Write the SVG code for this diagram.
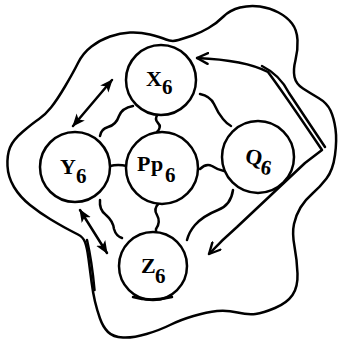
<svg xmlns="http://www.w3.org/2000/svg" width="339" height="347" viewBox="0 0 339 347">
<style>
.ln{fill:none;stroke:#000;stroke-width:2.5;stroke-linecap:round;stroke-linejoin:round}
.nd{fill:#fff;stroke:#000;stroke-width:2.5}
.lb{font-family:"Liberation Serif","Times New Roman",serif;font-weight:bold;font-size:22px;fill:#000}
.sb{font-size:21px}
</style>
<defs>
<marker id="v" viewBox="0 0 12 12" refX="11" refY="6" markerWidth="13" markerHeight="13" markerUnits="userSpaceOnUse" orient="auto-start-reverse">
<path d="M1,1 L11,6 L1,11" fill="none" stroke="#000" stroke-width="2.2" stroke-linecap="round" stroke-linejoin="round"/>
</marker>
<marker id="f" viewBox="0 0 12 12" refX="11" refY="6" markerWidth="13" markerHeight="13" markerUnits="userSpaceOnUse" orient="auto-start-reverse">
<path d="M0,1 L12,6 L0,11 L3,6 Z" fill="#000"/>
</marker>
</defs>
<g id="outline">
<path class="ln" d="M 10,147.5 Q 13,140 23,131.5 Q 33,123 39,119 Q 45,115 51,107.5 Q 57,100 65,86.5 Q 73,73 78,63 Q 83,53 91.5,46.5 Q 100,40 110,36.5 Q 120,33 130,32.5 Q 140,32 150,34.5 Q 160,37 166,39.5 Q 172,42 178.5,40 Q 185,38 192.5,35.5 Q 200,33 208.5,28 Q 217,23 223.5,16.5 Q 230,10 240,7.5 Q 250,5 260,6.5 Q 270,8 278.5,12.5 Q 287,17 292,23.5 Q 297,30 297.5,40 Q 298,50 295.5,60 Q 293,70 294.5,77 Q 296,84 303,88.5 Q 310,93 318.5,98 Q 327,103 330.5,110.5 Q 334,118 335.5,129 Q 337,140 335,155 Q 333,170 326.5,178.5 Q 320,187 312.5,193.5 Q 305,200 300.5,207.5 Q 296,215 294,224 Q 292,233 294.5,246.5 Q 297,260 297.5,273.5 Q 298,287 292.5,295 Q 287,303 275,308 Q 263,313 255.5,314 Q 248,315 237.5,312.5 Q 227,310 217,311 Q 207,312 193.5,316 Q 180,320 170,325 Q 160,330 146.5,334 Q 133,338 123,337.5 Q 113,337 108,332 Q 103,327 100,318.5 Q 97,310 95,301.5 Q 93,293 91.5,281.5 Q 90,270 88.5,258.5 Q 87,247 85,242 Q 83,237 78,234.5 Q 73,232 66.5,228.5 Q 60,225 50,219 Q 40,213 30,205 Q 20,197 14,187 Q 8,177 7.5,166 Q 7,155 10,147.5 Z"/>
<path class="ln" d="M87,240 Q92,262 94.5,290"/>
</g>
<g id="connectors">
<path class="ln" d="M197,58 Q245,60 268,72 Q285,95 322,150 L305,163 L237,227 Q222,240 209,254" marker-start="url(#v)" marker-end="url(#v)"/>
<path class="ln" d="M262,66 Q280,75 289,93 L325,147"/>
<path class="ln" d="M73,126 L112,80" marker-start="url(#f)" marker-end="url(#f)"/>
<path class="ln" d="M80,210 L107,253" marker-start="url(#f)" marker-end="url(#f)"/>
<path class="ln" d="M133,106 Q122,108 119,116 Q116,125 108,127 Q101,129 100,136"/>
<path class="ln" d="M158,114 Q154,119 158,123 Q162,127 157,132"/>
<path class="ln" d="M200,94 Q210,96 214,104 Q218,113 223,119 Q227,124 231,126"/>
<path class="ln" d="M110,166 Q118,164 127,166"/>
<path class="ln" d="M200,169 Q206,163 212,166 Q218,170 224,171"/>
<path class="ln" d="M100,200 Q99,210 106,215 Q113,221 114,229 Q116,236 122,238"/>
<path class="ln" d="M159,203 Q153,209 157,215 Q161,222 156,229 L156,234"/>
<path class="ln" d="M233,190 Q231,205 218,210 Q203,216 195,225 Q189,232 187,240"/>
</g>
<g id="X6">
<circle class="nd" cx="161" cy="80" r="35"/>
<text class="lb" x="146" y="86">X<tspan class="sb" x="162" dy="8">6</tspan></text>
</g>
<g id="Y6">
<circle class="nd" cx="75" cy="167" r="35"/>
<text class="lb" x="60" y="174">Y<tspan class="sb" x="76" dy="9">6</tspan></text>
</g>
<g id="Pp6">
<circle class="nd" cx="162" cy="168" r="36"/>
<text class="lb" x="137" y="171">P<tspan x="151">p</tspan><tspan class="sb" x="165" dy="11">6</tspan></text>
</g>
<g id="Q6">
<circle class="nd" cx="258" cy="157" r="36"/>
<text class="lb" x="245" y="165" transform="rotate(10 258 160)">Q<tspan class="sb" x="262" dy="8">6</tspan></text>
</g>
<g id="Z6">
<circle class="nd" cx="153" cy="266" r="34"/>
<path class="ln" d="M133,297 Q150,302 172,297"/>
<text class="lb" x="141" y="273">Z<tspan class="sb" x="155" dy="10">6</tspan></text>
</g>
</svg>
